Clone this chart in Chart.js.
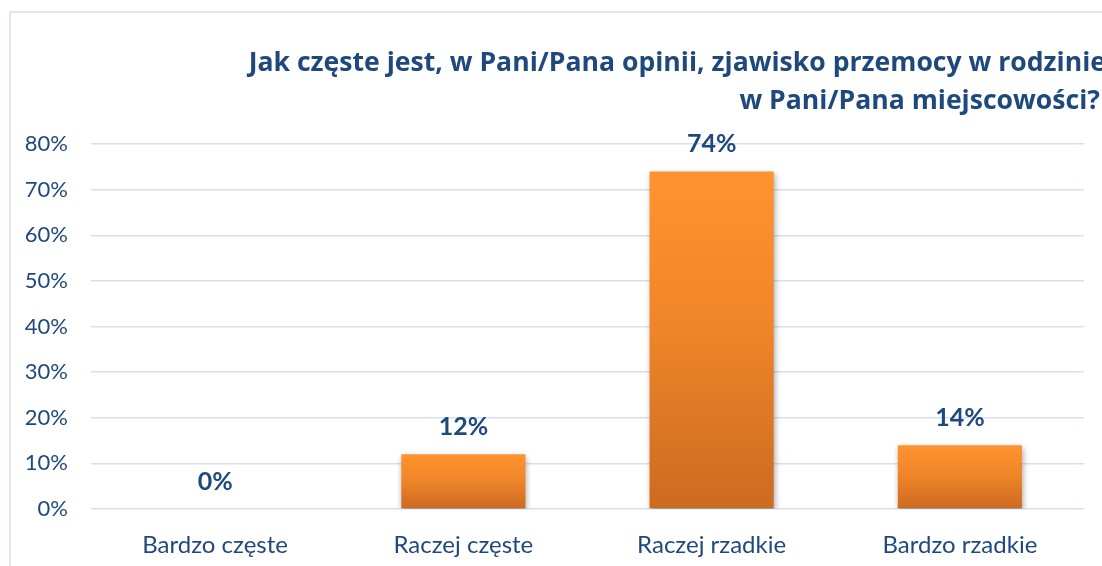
<!DOCTYPE html>
<html>
<head>
<meta charset="utf-8">
<script src="https://cdn.jsdelivr.net/npm/chart.js@4"></script>
<style>
  html, body { margin: 0; padding: 0; background: #fff; overflow: hidden; }
  #wrap { position: relative; width: 1102px; height: 566px; }
</style>
</head>
<body>
<div id="wrap"><canvas id="chart"></canvas></div>
<script>
// Chart data
const categories = ['Bardzo częste', 'Raczej częste', 'Raczej rzadkie', 'Bardzo rzadkie'];
const values = [0, 12, 74, 14];
const yTicks = [0, 10, 20, 30, 40, 50, 60, 70, 80];
const titleLines = ['Jak częste jest, w Pani/Pana opinii, zjawisko przemocy w rodzinie', 'w Pani/Pana miejscowości?'];

// Colors and fonts
const textColor = '#1f497d';
const gridColor = '#d6e1f0';
const fontFamily = 'Lato, "Open Sans", sans-serif';
const titleFont = '"Open Sans", Lato, sans-serif';

// Frame + title drawn on the canvas
const framePlugin = {
    id: 'frame',
    beforeDraw(chart) {
        const c = chart.ctx;
        c.save();
        c.strokeStyle = '#d3dff0';
        c.lineWidth = 1.5;
        c.beginPath();
        c.moveTo(10, 566);
        c.lineTo(10, 12);
        c.lineTo(1102, 12);
        c.stroke();
        c.restore();
    },
    afterDraw(chart) {
        const c = chart.ctx;
        c.save();
        c.fillStyle = textColor;
        c.font = 'bold 26.6px ' + titleFont;
        c.textAlign = 'right';
        c.textBaseline = 'alphabetic';
        c.fillText(titleLines[0], 1106, 71);
        c.fillText(titleLines[1], 1100, 109);
        c.restore();
    }
};

// Bar shadow + value labels
const labelPlugin = {
    id: 'valueLabels',
    beforeDatasetsDraw(chart) {
        const c = chart.ctx;
        c.save();
        c.shadowColor = 'rgba(0,0,0,0.35)';
        c.shadowBlur = 6;
        c.shadowOffsetX = 1;
        c.shadowOffsetY = 3;
    },
    afterDatasetsDraw(chart) {
        const c = chart.ctx;
        c.restore();
        const meta = chart.getDatasetMeta(0);
        c.save();
        c.fillStyle = textColor;
        c.font = 'bold 25px ' + fontFamily;
        c.textAlign = 'center';
        c.textBaseline = 'middle';
        meta.data.forEach((bar, i) => {
            c.fillText(values[i] + '%', bar.x, bar.y - 27);
        });
        c.restore();
    }
};

function barGradient(context) {
    const chart = context.chart;
    const y = chart.scales && chart.scales.y;
    if (!chart.chartArea || !y) return '#f28a2c';
    const v = values[context.dataIndex] || 0;
    const top = y.getPixelForValue(v);
    const bottom = y.getPixelForValue(0);
    if (bottom - top < 1) return '#f28a2c';
    const g = chart.ctx.createLinearGradient(0, top, 0, bottom);
    g.addColorStop(0, '#ff932e');
    g.addColorStop(0.45, '#f0862a');
    g.addColorStop(1, '#cc6a20');
    return g;
}

const config = {
    type: 'bar',
    data: {
        labels: categories,
        datasets: [{
            data: values,
            backgroundColor: barGradient,
            borderWidth: 0,
            barPercentage: 0.5,
            categoryPercentage: 1
        }]
    },
    options: {
        responsive: true,
        maintainAspectRatio: false,
        animation: false,
        layout: {
            padding: { top: 144, right: 18, bottom: 0, left: 0 }
        },
        plugins: {
            legend: { display: false },
            title: { display: false },
            tooltip: { enabled: false }
        },
        scales: {
            x: {
                grid: { display: false, drawTicks: false },
                border: { display: false },
                ticks: {
                    color: textColor,
                    font: { family: fontFamily, size: 24 },
                    padding: 22
                },
                afterFit(scale) { scale.height = 57; }
            },
            y: {
                min: 0,
                max: 80,
                afterBuildTicks(scale) {
                    scale.ticks = yTicks.map(v => ({ value: v }));
                },
                grid: { color: gridColor, lineWidth: 1.5, drawTicks: false },
                border: { display: false },
                ticks: {
                    color: textColor,
                    font: { family: fontFamily, size: 22 },
                    padding: 23,
                    callback: v => v + '%'
                },
                afterFit(scale) { scale.width = 91; }
            }
        }
    },
    plugins: [framePlugin, labelPlugin]
};

new Chart(document.getElementById('chart'), config);
</script>
</body>
</html>
